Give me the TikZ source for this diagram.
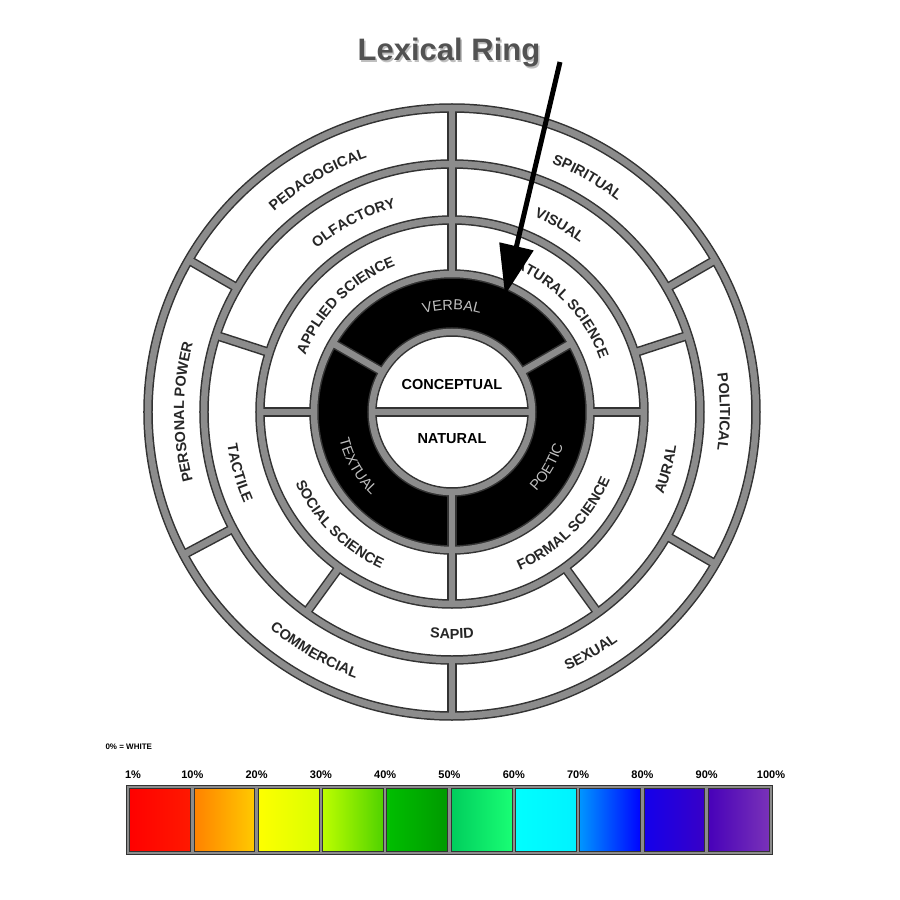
\documentclass[tikz,border=0pt]{standalone}
\usepackage{fontspec}
\setmainfont{Liberation Sans}
\usetikzlibrary{decorations.text,arrows.meta}

\tikzset{
  edge/.style={draw=black!80, line width=9.5pt},
  band/.style={draw=black!45, line width=6.5pt},
  ringlbl/.style={decorate, decoration={text along path, text align=center,
      text={|\fontsize{14.5}{14.5}\selectfont\bfseries\color{black!85}|#1}}},
  darklbl/.style={decorate, decoration={text along path, text align=center,
      text={|\fontsize{14.5}{14.5}\selectfont\color{black!25}|#1}}},
  pct/.style={font=\fontsize{11}{11}\selectfont\bfseries, inner sep=0pt}
}

% all circles and spokes of the wheel, drawn with style #1
\newcommand{\wheellines}[1]{%
  \foreach \r in {80,138,192,248,304} \draw[#1] (0,0) circle[radius=\r];
  \foreach \a in {30,90,150,208,270,330} \draw[#1] (\a:248) -- (\a:304);
  \foreach \a in {18,90,162,234,306} \draw[#1] (\a:192) -- (\a:248);
  \foreach \a in {0,90,180,270} \draw[#1] (\a:138) -- (\a:192);
  \foreach \a in {30,150,270} \draw[#1] (\a:80) -- (\a:138);
  \draw[#1] (-80,0) -- (80,0);
}
% text on an arc: radius, start, end, style, text
\newcommand{\arctext}[5]{%
  \path[#4={#5}] (#2:#1) arc[start angle=#2, end angle=#3, radius=#1];
}

\begin{document}
\begin{tikzpicture}[x=1pt,y=1pt]
  \useasboundingbox[fill=white] (-452,-488) rectangle (448,412);

  % black lexical ring
  \fill[black, even odd rule] (0,0) circle[radius=138] circle[radius=80];

  \wheellines{edge}
  \wheellines{band}

  % outer ring
  \arctext{268}{137}{103}{ringlbl}{PEDAGOGICAL}
  \arctext{268}{78}{42}{ringlbl}{SPIRITUAL}
  \arctext{268}{20}{-20}{ringlbl}{POLITICAL}
  \arctext{268}{207}{153}{ringlbl}{PERSONAL POWER}
  \arctext{283}{222}{258}{ringlbl}{COMMERCIAL}
  \arctext{283}{285}{315}{ringlbl}{SEXUAL}
  % second ring
  \arctext{212}{135}{100}{ringlbl}{OLFACTORY}
  \arctext{212}{75}{45}{ringlbl}{VISUAL}
  \arctext{227}{180}{212}{ringlbl}{TACTILE}
  \arctext{227}{255}{285}{ringlbl}{SAPID}
  \arctext{227}{330}{360}{ringlbl}{AURAL}
  % third ring
  \arctext{157}{165}{105}{ringlbl}{APPLIED SCIENCE}
  \arctext{157}{75}{15}{ringlbl}{NATURAL SCIENCE}
  \arctext{172}{195}{255}{ringlbl}{SOCIAL SCIENCE}
  \arctext{172}{285}{345}{ringlbl}{FORMAL SCIENCE}
  % black ring
  \arctext{102}{110}{70}{darklbl}{VERBAL}
  \arctext{116}{190}{230}{darklbl}{TEXTUAL}
  \arctext{116}{310}{350}{darklbl}{POETIC}

  \node[font=\fontsize{14.5}{14.5}\selectfont\bfseries] (concept) at (0,27) {CONCEPTUAL};
  \node[font=\fontsize{14.5}{14.5}\selectfont\bfseries] (natural) at (0,-27) {NATURAL};

  % title and arrow
  \node[font=\fontsize{31}{31}\selectfont\bfseries, text=black!25] at (-1.5,357.5) {Lexical Ring};
  \node[font=\fontsize{31}{31}\selectfont\bfseries, text=black!68] (title) at (-3,359) {Lexical Ring};
  \coordinate (from) at (108,350);
  \coordinate (to) at (53,117);
  \draw[line width=5pt, -{Triangle[length=50pt,width=34pt]}] (from) -- (to);

  % legend
  \node[font=\fontsize{8}{8}\selectfont\bfseries, anchor=west] (white) at (-350,-335) {0\% = WHITE};
  \foreach \i/\lc/\rc in {0/red/red!80!orange, 1/orange/orange!40!yellow,
      2/yellow/yellow!85!green, 3/lime/green!70!black!60!lime, 4/green!75!black/green!60!black,
      5/green!55!cyan!80!black/cyan!40!green!90, 6/cyan/cyan!95!blue, 7/cyan!60!blue/blue,
      8/blue!85!violet/blue!55!violet, 9/blue!45!violet/violet!70!blue!80!white}
    \shade[left color=\lc, right color=\rc] (-324+64.3*\i,-441) rectangle ++(64.3,66);
  \foreach \i in {0,...,10}
    \draw[black!80, line width=4.5pt] (-324+64.3*\i,-441) -- ++(0,66);
  \draw[black!80, line width=4.5pt] (-324,-441) rectangle (319,-375);
  \foreach \i in {0,...,10}
    \draw[black!45, line width=2.5pt] (-324+64.3*\i,-441) -- ++(0,66);
  \draw[black!45, line width=2.5pt] (-324,-441) rectangle (319,-375);
  \foreach \i/\t in {1/10,2/20,3/30,4/40,5/50,6/60,7/70,8/80,9/90,10/100}
    \node[pct] (p\t) at (-324+64.3*\i,-363) {\t\%};
  \node[pct] (p1) at (-319,-363) {1\%};
\end{tikzpicture}
\end{document}
